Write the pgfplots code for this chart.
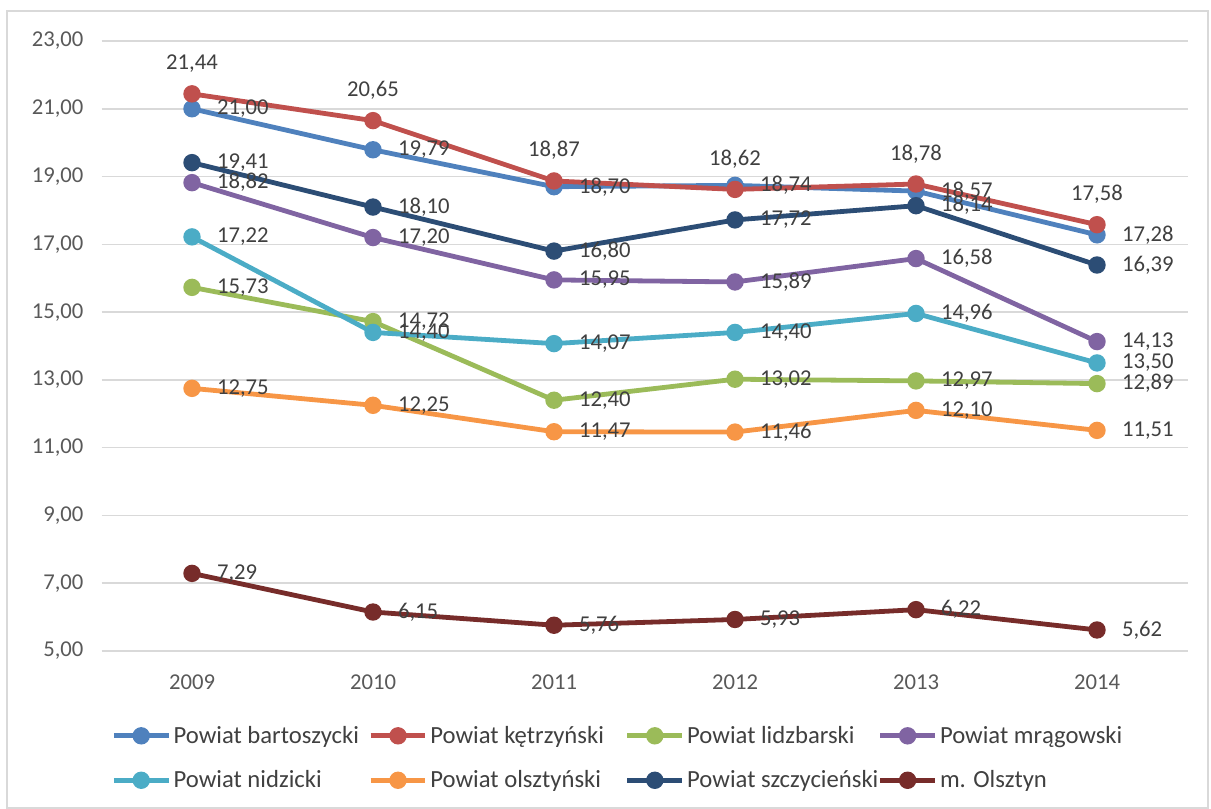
\documentclass[border=0pt]{standalone}
\usepackage{fontspec}
\setmainfont{Carlito}
\usepackage{pgfplots}
\pgfplotsset{compat=1.18}
\definecolor{cA}{HTML}{4F81BD}
\definecolor{cB}{HTML}{C0504D}
\definecolor{cC}{HTML}{9BBB59}
\definecolor{cD}{HTML}{8064A2}
\definecolor{cE}{HTML}{4BACC6}
\definecolor{cF}{HTML}{F79646}
\definecolor{cG}{HTML}{2C4D75}
\definecolor{cH}{HTML}{772C2A}
\definecolor{gridc}{HTML}{D9D9D9}
\definecolor{tickc}{HTML}{595959}
\definecolor{labc}{HTML}{404040}
\newcommand{\fs}{\fontsize{17}{20}\selectfont}
\newcommand{\fl}{\fontsize{18.5}{22}\selectfont}
\begin{document}
\begin{tikzpicture}
\useasboundingbox (0,0) rectangle (908.25pt,606.75pt);
\draw[gridc, line width=0.8pt] (5.25pt,0.75pt) rectangle (906pt,598.5pt);
\begin{axis}[
  at={(76.125pt,118.5pt)}, anchor=south west,
  scale only axis, width=814.5pt, height=457.5pt,
  xmin=-0.5, xmax=5.5, ymin=5, ymax=23,
  xtick={0,1,2,3,4,5}, xticklabels={2009,2010,2011,2012,2013,2014},
  ytick={5,7,...,23},
  ymajorgrids, grid style={gridc, line width=1.1pt},
  axis line style={draw=none},
  major tick length=0pt,
  tick label style={font=\fs, text=tickc},
  yticklabel style={xshift=-10pt},
  xticklabel style={yshift=-14pt},
  /pgf/number format/.cd, fixed, fixed zerofill, precision=2, use comma, 1000 sep={}, assume math mode=true,
  /pgfplots/.cd,
  every axis plot/.append style={line width=3.6pt, mark=*, mark size=4.7pt},
  nodes near coords={\pgfmathprintnumber[fixed,fixed zerofill,precision=2,use comma,assume math mode=true]{\pgfplotspointmeta}},
  every node near coord/.append style={font=\fs, text=labc, inner sep=0pt, anchor=west, xshift=17pt},
  legend columns=4,
  legend style={draw=none, fill=none, inner sep=0pt, outer sep=0pt, at={(0.0092,-0.119)}, anchor=north west, font=\fl, text=labc,
    /tikz/every even column/.append style={column sep=0pt},
    row sep=15pt, cells={anchor=west}},
  legend image code/.code={\draw[mark repeat=2,mark phase=2] plot coordinates {(0pt,0pt)(20.5pt,0pt)(41pt,0pt)};},
]
\addplot[cA] coordinates {(0,21.00)(1,19.79)(2,18.70)(3,18.74)(4,18.57)(5,17.28)};
\addlegendentry{\makebox[144pt][l]{Powiat bartoszycki}}
\addplot[cB, every node near coord/.append style={anchor=south, xshift=-17pt, yshift=14pt}] coordinates {(0,21.44)(1,20.65)(2,18.87)(3,18.62)(4,18.78)(5,17.58)};
\addlegendentry{\makebox[144pt][l]{Powiat kętrzyński}}
\addplot[cC] coordinates {(0,15.73)(1,14.72)(2,12.40)(3,13.02)(4,12.97)(5,12.89)};
\addlegendentry{\makebox[141pt][l]{Powiat lidzbarski}}
\addplot[cD] coordinates {(0,18.82)(1,17.20)(2,15.95)(3,15.89)(4,16.58)(5,14.13)};
\addlegendentry{Powiat mrągowski}
\addplot[cE] coordinates {(0,17.22)(1,14.40)(2,14.07)(3,14.40)(4,14.96)(5,13.50)};
\addlegendentry{\makebox[144pt][l]{Powiat nidzicki}}
\addplot[cF] coordinates {(0,12.75)(1,12.25)(2,11.47)(3,11.46)(4,12.10)(5,11.51)};
\addlegendentry{\makebox[144pt][l]{Powiat olsztyński}}
\addplot[cG] coordinates {(0,19.41)(1,18.10)(2,16.80)(3,17.72)(4,18.14)(5,16.39)};
\addlegendentry{\makebox[141pt][l]{Powiat szczycieński}}
\addplot[cH] coordinates {(0,7.29)(1,6.15)(2,5.76)(3,5.93)(4,6.22)(5,5.62)};
\addlegendentry{m. Olsztyn}
\end{axis}
\end{tikzpicture}
\end{document}
